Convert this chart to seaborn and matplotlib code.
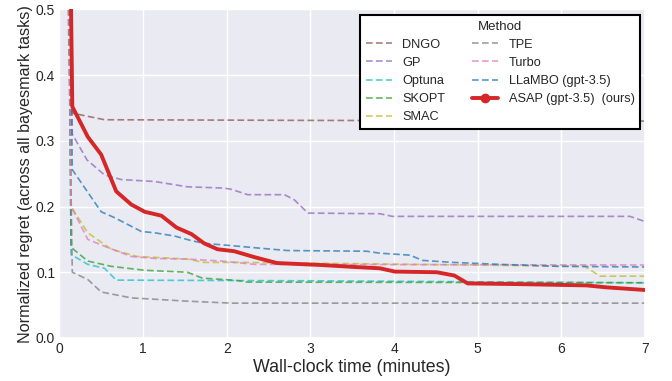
import matplotlib
matplotlib.use("Agg")
import matplotlib.pyplot as plt
from matplotlib.lines import Line2D
import seaborn as sns
import pandas as pd

# ---- data (minutes, normalized regret) ----
dngo_t = [0.10, 0.155, 0.54, 3.0, 7.0]
dngo_v = [0.80, 0.342, 0.332, 0.331, 0.330]

gp_t = [0.10, 0.155, 0.33, 0.54, 0.74, 1.14, 1.53, 1.97, 2.06, 2.25, 2.69, 2.81, 2.97, 3.83, 3.98, 6.82, 7.0]
gp_v = [0.80, 0.310, 0.271, 0.248, 0.241, 0.238, 0.230, 0.228, 0.226, 0.218, 0.218, 0.210, 0.190, 0.189, 0.185, 0.185, 0.177]

optuna_t = [0.10, 0.14, 0.34, 0.54, 0.68, 3.0, 7.0]
optuna_v = [0.80, 0.127, 0.112, 0.106, 0.088, 0.087, 0.084]

skopt_t = [0.10, 0.14, 0.34, 0.62, 1.02, 1.53, 1.71, 2.09, 2.25, 7.0]
skopt_v = [0.80, 0.138, 0.117, 0.109, 0.103, 0.100, 0.091, 0.088, 0.085, 0.084]

smac_t = [0.10, 0.14, 0.34, 0.62, 0.93, 1.53, 1.73, 2.18, 6.28, 6.46, 7.0]
smac_v = [0.80, 0.200, 0.160, 0.135, 0.124, 0.120, 0.115, 0.115, 0.109, 0.094, 0.094]

tpe_t = [0.07, 0.155, 0.34, 0.50, 0.86, 1.53, 2.06, 7.0]
tpe_v = [0.80, 0.100, 0.089, 0.070, 0.061, 0.056, 0.053, 0.053]

turbo_t = [0.10, 0.14, 0.34, 0.57, 0.86, 1.14, 1.53, 1.94, 2.33, 7.0]
turbo_v = [0.80, 0.200, 0.150, 0.138, 0.124, 0.121, 0.120, 0.117, 0.112, 0.111]

llambo_t = [0.10, 0.155, 0.50, 0.66, 0.98, 1.14, 1.38, 1.58, 1.73, 2.01, 2.45, 2.73, 3.67, 3.83, 4.19, 4.34, 4.70, 5.26, 5.95, 7.0]
llambo_v = [0.80, 0.256, 0.192, 0.183, 0.162, 0.160, 0.155, 0.148, 0.144, 0.141, 0.136, 0.133, 0.132, 0.129, 0.126, 0.118, 0.115, 0.112, 0.109, 0.108]

asap_t = [0.11, 0.155, 0.34, 0.50, 0.68, 0.86, 1.02, 1.22, 1.40, 1.58, 1.73, 1.89, 2.09, 2.33, 2.60, 3.13, 3.53, 3.83, 4.01, 4.51, 4.72, 4.88, 5.47, 6.30, 6.54, 7.0]
asap_v = [0.80, 0.352, 0.306, 0.279, 0.223, 0.203, 0.192, 0.186, 0.168, 0.158, 0.144, 0.135, 0.132, 0.123, 0.114, 0.111, 0.108, 0.106, 0.101, 0.100, 0.095, 0.083, 0.082, 0.080, 0.077, 0.073]

methods = ["DNGO", "GP", "Optuna", "SKOPT", "SMAC", "TPE", "Turbo", "LLaMBO (gpt-3.5)", "ASAP (gpt-3.5)  (ours)"]
series = [(dngo_t, dngo_v), (gp_t, gp_v), (optuna_t, optuna_v), (skopt_t, skopt_v),
          (smac_t, smac_v), (tpe_t, tpe_v), (turbo_t, turbo_v), (llambo_t, llambo_v),
          (asap_t, asap_v)]
colors = ["#8c564b", "#9467bd", "#17becf", "#2ca02c", "#bcbd22", "#7f7f7f", "#e377c2", "#1f77b4", "#d62728"]

x_ticks = [0, 1, 2, 3, 4, 5, 6, 7]
y_ticks = [0.0, 0.1, 0.2, 0.3, 0.4, 0.5]

rows = []
for m, (t, v) in zip(methods, series):
    for a, b in zip(t, v):
        rows.append({"Method": m, "time": a, "regret": b})
df = pd.DataFrame(rows)

sns.set_theme(style="darkgrid")
plt.rcParams["font.family"] = ["Liberation Sans", "DejaVu Sans"]

fig, ax = plt.subplots(figsize=(6.72, 3.81), dpi=100)
for m, c in zip(methods, colors):
    sub = df[df["Method"] == m]
    if m.startswith("ASAP"):
        sns.lineplot(data=sub, x="time", y="regret", color=c, lw=2.8, ax=ax, zorder=5)
    else:
        sns.lineplot(data=sub, x="time", y="regret", color=c, lw=1.2, alpha=0.75,
                     linestyle=(0, (4, 2)), ax=ax)

ax.set_xlim(0, 7)
ax.set_ylim(0, 0.5)
ax.set_xticks(x_ticks)
ax.set_yticks(y_ticks)
ax.set_xticklabels([str(x) for x in x_ticks], fontsize=10)
ax.set_yticklabels([f"{y:.1f}" for y in y_ticks], fontsize=10)
ax.tick_params(axis="both", length=0, pad=3)
ax.set_xlabel("Wall-clock time (minutes)", fontsize=12.8, labelpad=2)
ax.set_ylabel("Normalized regret (across all bayesmark tasks)", fontsize=11.6, labelpad=2)

handles = []
for m, c in zip(methods, colors):
    if m.startswith("ASAP"):
        handles.append(Line2D([], [], color=c, lw=2.8, marker="o", markersize=6))
    else:
        handles.append(Line2D([], [], color=c, lw=1.2, alpha=0.75, linestyle=(0, (4, 2))))
leg = ax.legend(handles, methods, title="Method", ncol=2, loc="upper right",
                bbox_to_anchor=(0.992, 0.983),
                fontsize=9.2, title_fontsize=9.5, frameon=True, fancybox=False,
                borderaxespad=0.0, columnspacing=2.1, handlelength=2.0,
                handletextpad=0.85, labelspacing=0.48, borderpad=0.45)
leg.get_frame().set_edgecolor("black")
leg.get_frame().set_linewidth(1.5)
leg.get_frame().set_facecolor("white")
leg.get_frame().set_alpha(1)

fig.subplots_adjust(left=0.0883, right=0.960, top=0.9756, bottom=0.1129)
fig.savefig("out.png", dpi=100)
